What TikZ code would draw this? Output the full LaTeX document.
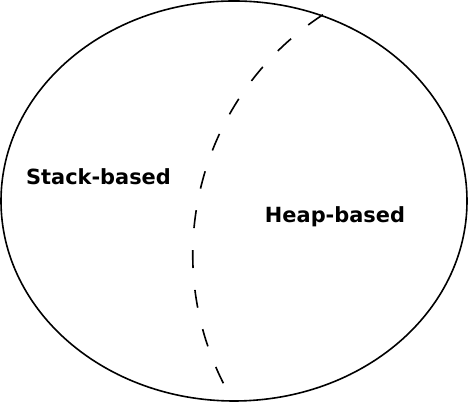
\documentclass[tikz,border=0pt]{standalone}
\usepackage{fontspec}
\setmainfont{DejaVu Sans}
\begin{document}
\begin{tikzpicture}[x=1pt,y=1pt,
  label/.style={font=\fontsize{20.9}{24}\selectfont\bfseries, anchor=base, inner sep=0pt},
  outline/.style={line width=1.6pt},
  divider/.style={line width=1.6pt, dash pattern=on 18pt off 22pt}]
\useasboundingbox (0,0) rectangle (469,403);
\draw[outline] (234,202) ellipse [x radius=233, y radius=200];
\coordinate (top) at (323,388.3);
\draw[divider] (top) arc[start angle=123, end angle=206.9, radius=286pt];
\node[label] (stack) at (98.5,218) {Stack-based};
\node[label] (heap) at (335,180.7) {Heap-based};
\end{tikzpicture}
\end{document}
